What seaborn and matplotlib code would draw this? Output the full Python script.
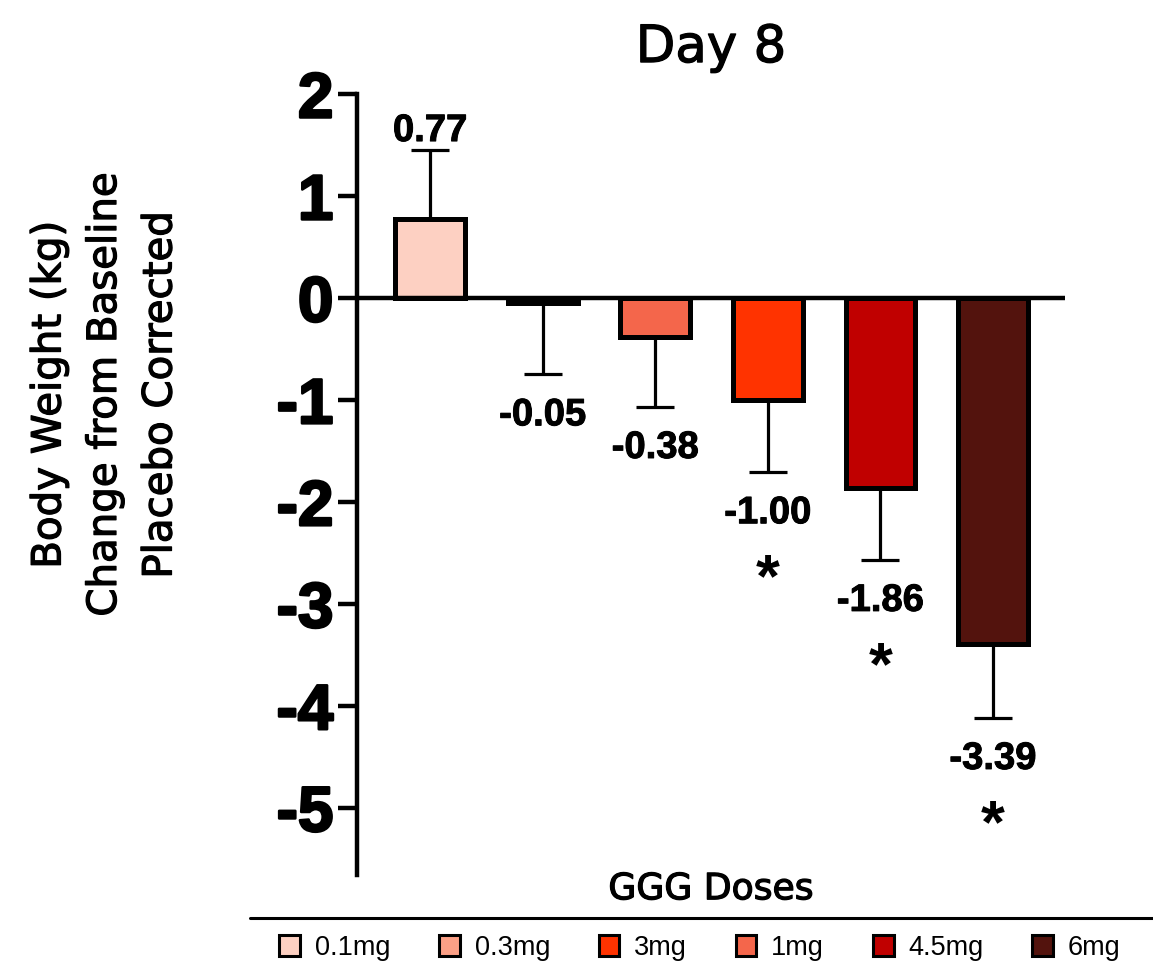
import numpy as np
import pandas as pd
import matplotlib
matplotlib.use("Agg")
import matplotlib.pyplot as plt
import matplotlib.patheffects as pe
from matplotlib.patches import Patch
from matplotlib.lines import Line2D
import seaborn as sns

# ---- data ----
doses = ["0.1mg", "0.3mg", "1mg", "3mg", "4.5mg", "6mg"]
values = [0.77, -0.05, -0.38, -1.00, -1.86, -3.39]
errors = [0.68, 0.70, 0.69, 0.71, 0.71, 0.73]
significant = [False, False, False, True, True, True]
colors = ["#FDD0C2", "#FCA086", "#F4664B", "#FF3300", "#C00000", "#53130D"]
legend_order = ["0.1mg", "0.3mg", "3mg", "1mg", "4.5mg", "6mg"]
yticks = [2, 1, 0, -1, -2, -3, -4, -5]

sns.set_theme(style="white")
plt.rcParams["axes.unicode_minus"] = False
plt.rcParams["font.family"] = ["DejaVu Sans"]
for k in ["text.color", "axes.labelcolor", "xtick.color", "ytick.color", "axes.edgecolor"]:
    plt.rcParams[k] = "black"

df = pd.DataFrame({"dose": doses, "value": values})
palette = dict(zip(doses, colors))

fig = plt.figure(figsize=(11.53, 9.63), dpi=100)
ax = fig.add_axes([357/1153, 1-875/963, (1065-357)/1153, (875-94)/963])

sns.barplot(data=df, x="dose", y="value", hue="dose", palette=palette,
            order=doses, hue_order=doses, width=0.62, edgecolor="black",
            linewidth=3.6, errorbar=None, legend=False, saturation=1, ax=ax)

pos = np.arange(len(doses))
vals = np.array(values)
errs = np.array(errors)
lower = np.where(vals < 0, errs, 0)
upper = np.where(vals >= 0, errs, 0)
ax.errorbar(pos, vals, yerr=[lower, upper], fmt="none", ecolor="black",
            elinewidth=2.3, capsize=13.7, capthick=2.3, zorder=0.9)

ax.axhline(0, color="black", lw=3.2, zorder=3)

thick = [pe.withStroke(linewidth=0.7, foreground="black")]
medium = [pe.withStroke(linewidth=0.9, foreground="black")]
lab_font = dict(family="Liberation Sans", weight="bold")
for i, (v, e, s) in enumerate(zip(vals, errs, significant)):
    end = v + e if v >= 0 else v - e
    off = 13.7 if v >= 0 else -29.5
    ax.annotate(f"{v:.2f}", xy=(i, end), xytext=(0, off), textcoords="offset points",
                ha="center", va="center", fontsize=27.5, color="black",
                path_effects=thick, **lab_font)
    if s:
        ax.annotate("*", xy=(i, end), xytext=(0, -78), textcoords="offset points",
                    ha="center", va="center", fontsize=44, color="black", **lab_font)

ax.set_ylim(-5.66, 2.0)
ax.set_xlim(-0.65, 5.64)
ax.set_yticks(yticks)
ax.set_yticklabels([str(t) for t in yticks], fontsize=46, fontfamily="Liberation Sans",
                   fontweight="bold", color="black")
for t in ax.get_yticklabels():
    t.set_path_effects([pe.withStroke(linewidth=1.8, foreground="black")])
ax.set_xticks([])
ax.tick_params(axis="y", direction="out", length=14, width=3.2, pad=3, color="black", left=True)
for sp in ["top", "right", "bottom"]:
    ax.spines[sp].set_visible(False)
ax.spines["left"].set_linewidth(3.2)
ax.spines["left"].set_color("black")

ax.set_title("Day 8", fontsize=37, pad=23, color="black", path_effects=medium)
ax.set_xlabel("GGG Doses", fontsize=26, labelpad=-2, color="black", path_effects=medium)
ax.set_ylabel("Body Weight (kg)\nChange from Baseline\nPlacebo Corrected",
              fontsize=29, color="black", va="center", ha="center", linespacing=1.5,
              path_effects=medium)
ax.yaxis.set_label_coords((105-357)/708, 1-(395-94)/781)

fig.add_artist(Line2D([250/1153, 1.0], [1-918/963]*2, color="black", lw=2.2,
                      transform=fig.transFigure))

handles = [Patch(facecolor=palette[d], edgecolor="black", linewidth=2.2) for d in legend_order]
leg = fig.legend(handles, legend_order, loc="center", bbox_to_anchor=(700/1153, 1-948/963),
                 ncol=6, frameon=False, prop=dict(family="Liberation Sans", size=19.5),
                 handlelength=0.76, handleheight=0.8, handletextpad=0.55, columnspacing=1.8)
for t in leg.get_texts():
    t.set_color("black")

fig.savefig("out.png", dpi=100, facecolor="white")
